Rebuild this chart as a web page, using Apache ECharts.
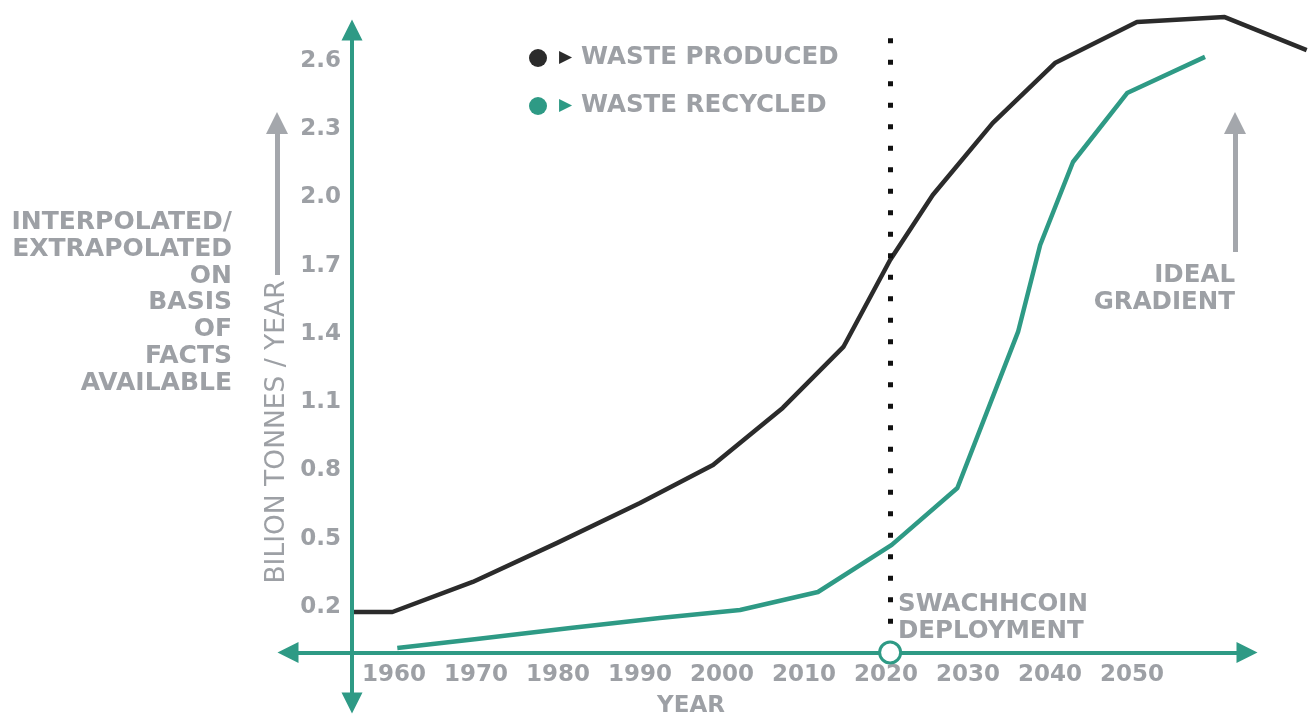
<!DOCTYPE html>
<html><head><meta charset="utf-8">
<script src="https://cdn.jsdelivr.net/npm/echarts@6/dist/echarts.min.js"></script>
<style>html,body{margin:0;padding:0;background:#fff}#c{width:1313px;height:714px}</style>
</head><body><div id="c"></div>
<script>
// ---- data ----
const producedYears  = [1954.9, 1959.8, 1969.6, 1979.9, 1990.0, 1998.9, 2007.4, 2014.8, 2020.5, 2025.7, 2033.0, 2040.6, 2050.6, 2061.3, 2071.3];
const producedValues = [0.178, 0.178, 0.310, 0.482, 0.657, 0.824, 1.075, 1.343, 1.725, 2.011, 2.327, 2.591, 2.771, 2.793, 2.648];
const recycledYears  = [1960.4, 1970.1, 1981.5, 1992.4, 2002.2, 2011.7, 2020.7, 2028.7, 2036.1, 2038.8, 2042.8, 2049.4, 2058.9];
const recycledValues = [0.020, 0.059, 0.108, 0.152, 0.187, 0.266, 0.473, 0.723, 1.409, 1.791, 2.156, 2.459, 2.618];
const yearTicks  = [1960, 1970, 1980, 1990, 2000, 2010, 2020, 2030, 2040, 2050];
const valueTicks = [0.2, 0.5, 0.8, 1.1, 1.4, 1.7, 2.0, 2.3, 2.6];
const seriesNames = ['WASTE PRODUCED', 'WASTE RECYCLED'];
const deploymentYear = 2020.5;

// ---- style ----
const GREEN = '#2e9a85', BLACK = '#2b2b2b', GRAY = '#9da0a5', ARROW_GRAY = '#a4a7ac';
const FONT = 'DejaVu Sans';
const X_MIN = 1911.95, X_MAX = 2072.07, Y_MIN = -0.2703, Y_MAX = 2.868;
const Y_AXIS_AT = 1954.88; // year where the vertical axis crosses

const chart = echarts.init(document.getElementById('c'), null, {renderer: 'canvas'});

const zip = (xs, ys) => xs.map((x, i) => [x, ys[i]]);

chart.setOption({
  animation: false,
  backgroundColor: '#fff',
  grid: {left: 0, right: 0, top: 0, bottom: 0, containLabel: false},
  xAxis: {
    type: 'value', min: X_MIN, max: X_MAX, position: 'bottom', offset: -61.5,
    axisLine: {show: false}, axisTick: {show: false}, splitLine: {show: false},
    axisLabel: {customValues: yearTicks, margin: 11, color: GRAY, fontFamily: FONT, fontWeight: 'bold', fontSize: 23,
      formatter: v => String(Math.round(v))}
  },
  yAxis: {
    type: 'value', min: Y_MIN, max: Y_MAX, position: 'left', offset: -352,
    axisLine: {show: false}, axisTick: {show: false}, splitLine: {show: false},
    axisLabel: {customValues: valueTicks, margin: 11, color: GRAY, fontFamily: FONT, fontWeight: 'bold', fontSize: 23,
      formatter: v => v.toFixed(1)}
  },
  legend: {
    data: seriesNames, orient: 'vertical', left: 524, top: 39, itemGap: 20,
    icon: 'circle', itemWidth: 18, itemHeight: 18,
    formatter: name => '{t' + seriesNames.indexOf(name) + '|\u25B6}{n|' + name + '}',
    textStyle: {
      lineHeight: 28,
      rich: {
        t0: {color: BLACK, fontSize: 17, fontFamily: FONT, padding: [0, 9, 0, 7]},
        t1: {color: GREEN, fontSize: 17, fontFamily: FONT, padding: [0, 9, 0, 7]},
        n: {color: GRAY, fontSize: 24.5, fontWeight: 'bold', fontFamily: FONT}
      }
    }
  },
  series: [
    { // axes and annotation arrows
      type: 'scatter', data: [], silent: true, z: 1,
      markLine: {
        silent: true, animation: false, label: {show: false},
        emphasis: {disabled: true},
        data: [
          [{coord: [1947.07, 0], symbol: 'triangle', symbolSize: 21, lineStyle: {color: GREEN, width: 4, type: 'solid'}, itemStyle: {color: GREEN}},
           {coord: [2064.02, 0], symbol: 'triangle', symbolSize: 21}],
          [{coord: [Y_AXIS_AT, -0.222], symbol: 'triangle', symbolSize: 21, lineStyle: {color: GREEN, width: 4, type: 'solid'}, itemStyle: {color: GREEN}},
           {coord: [Y_AXIS_AT, 2.736], symbol: 'triangle', symbolSize: 21}],
          [{coord: [1945.73, 1.659], symbol: 'none', lineStyle: {color: ARROW_GRAY, width: 5, type: 'solid'}, itemStyle: {color: ARROW_GRAY}},
           {coord: [1945.73, 2.327], symbol: 'triangle', symbolSize: 22}],
          [{coord: [2062.56, 1.760], symbol: 'none', lineStyle: {color: ARROW_GRAY, width: 5, type: 'solid'}, itemStyle: {color: ARROW_GRAY}},
           {coord: [2062.56, 2.327], symbol: 'triangle', symbolSize: 22}]
        ]
      }
    },
    {
      name: seriesNames[0], type: 'line', data: zip(producedYears, producedValues), z: 3,
      showSymbol: false, symbol: 'circle', color: BLACK,
      lineStyle: {color: BLACK, width: 4.5, join: 'round'}
    },
    {
      name: seriesNames[1], type: 'line', data: zip(recycledYears, recycledValues), z: 3,
      showSymbol: false, symbol: 'circle', color: GREEN,
      lineStyle: {color: GREEN, width: 4.5, join: 'round'}
    },
    { // deployment marker + dotted line
      type: 'scatter', data: [[deploymentYear, 0]], z: 6, silent: true,
      symbol: 'circle', symbolSize: 21,
      itemStyle: {color: '#fff', borderColor: GREEN, borderWidth: 3, opacity: 1},
      markLine: {
        silent: true, animation: false, symbol: ['none', 'none'], label: {show: false},
        lineStyle: {color: '#111', width: 5, type: [5, 16.5], cap: 'butt'},
        data: [[{coord: [deploymentYear, 2.70]}, {coord: [deploymentYear, 0.11]}]]
      }
    }
  ],
  graphic: [
    {type: 'text', x: 232, y: 209, style: {
      text: 'INTERPOLATED/\nEXTRAPOLATED\nON\nBASIS\nOF\nFACTS\nAVAILABLE',
      align: 'right', verticalAlign: 'top', lineHeight: 26.8,
      font: 'bold 25px "DejaVu Sans"', fill: GRAY}},
    {type: 'text', x: 277, y: 432, rotation: Math.PI / 2, style: {
      text: 'BILION TONNES / YEAR', align: 'center', verticalAlign: 'middle',
      font: '26.5px "DejaVu Sans"', fill: GRAY}},
    {type: 'text', x: 691, y: 706, style: {
      text: 'YEAR', align: 'center', verticalAlign: 'middle',
      font: 'bold 23px "DejaVu Sans"', fill: GRAY}},
    {type: 'text', x: 1235, y: 262, style: {
      text: 'IDEAL\nGRADIENT', align: 'right', verticalAlign: 'top', lineHeight: 27,
      font: 'bold 24.5px "DejaVu Sans"', fill: GRAY}},
    {type: 'text', x: 898, y: 591, style: {
      text: 'SWACHHCOIN\nDEPLOYMENT', align: 'left', verticalAlign: 'top', lineHeight: 27,
      font: 'bold 24.5px "DejaVu Sans"', fill: GRAY}}
  ]
});
</script></body></html>
